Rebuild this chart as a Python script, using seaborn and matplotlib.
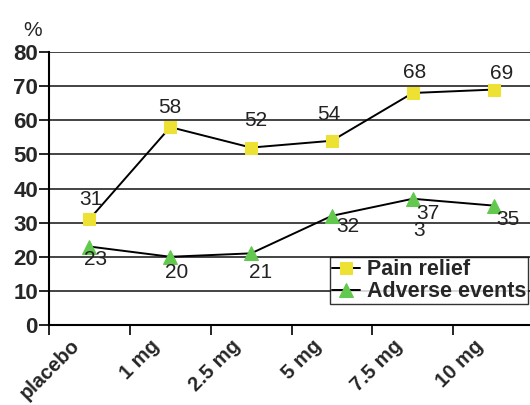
import matplotlib
matplotlib.use("Agg")
import matplotlib.pyplot as plt
import matplotlib.transforms as mtransforms
import numpy as np
import pandas as pd
import seaborn as sns

# Data
doses = ["placebo", "1 mg", "2.5 mg", "5 mg", "7.5 mg", "10 mg"]
pain_relief = [31, 58, 52, 54, 68, 69]
adverse_events = [23, 20, 21, 32, 37, 35]

# label offsets (pixels)
pain_offsets = [(1, 20), (0, 20), (5, 27), (-3, 26), (2, 20), (8, 16)]
adverse_offsets = [(6, -13), (6, -16), (9, -19), (16, -11), (15, -15), (14, -14)]

yellow = "#EDE134"
green = "#62C94E"

sns.set_style("white")
plt.rcParams["font.family"] = ["Liberation Sans", "DejaVu Sans"]

fig = plt.figure(figsize=(5.3, 4.05), dpi=100)
ax = fig.add_axes([0.0925, 0.1975, 0.915, 0.674])

df = pd.DataFrame({"dose": doses, "pain": pain_relief, "adverse": adverse_events})

sns.lineplot(data=df, x="dose", y="pain", ax=ax, color="black", lw=1.4,
             marker="s", markersize=8, markerfacecolor=yellow,
             markeredgecolor=yellow, sort=False, label="Pain relief")
sns.lineplot(data=df, x="dose", y="adverse", ax=ax, color="black", lw=1.4,
             marker="^", markersize=9.5, markerfacecolor=green,
             markeredgecolor=green, sort=False, label="Adverse events")

# Value labels
for i, (v, off) in enumerate(zip(pain_relief, pain_offsets)):
    ax.annotate(str(v), (i, v), xytext=off, textcoords="offset pixels",
                ha="center", va="center", fontsize=15, color="#222222")
for i, (v, off) in enumerate(zip(adverse_events, adverse_offsets)):
    ax.annotate(str(v), (i, v), xytext=off, textcoords="offset pixels",
                ha="center", va="center", fontsize=15, color="#222222")
# stray label in the original
ax.annotate("3", (4, adverse_events[4]), xytext=(6, -32), textcoords="offset pixels",
            ha="center", va="center", fontsize=15, color="#222222")

# Axes
ax.set_xlim(-0.5, 5.5)
ax.set_ylim(0, 80)
ax.set_yticks(np.arange(0, 81, 10))
ax.yaxis.grid(True, color="#111111", lw=1.1)
ax.set_axisbelow(True)
ax.set_xlabel("")
ax.set_ylabel("")

ax.set_xticks(range(len(doses)))
ax.set_xticklabels(doses, rotation=45, ha="right", va="top",
                   rotation_mode="anchor", fontsize=14.5, fontweight="bold")
ax.tick_params(axis="x", length=0, pad=8)
shift = mtransforms.ScaledTranslation(-20 / 100, 0, fig.dpi_scale_trans)
for lab in ax.get_xticklabels():
    lab.set_transform(lab.get_transform() + shift)
ax.set_xticks(np.arange(-0.5, 5.6, 1), minor=True)
ax.tick_params(axis="x", which="minor", direction="out", length=7, width=1.2,
               color="black", bottom=True)
ax.tick_params(axis="y", length=7, width=1.2, color="black", left=True,
               labelsize=16, pad=1)
for lab in ax.get_yticklabels():
    lab.set_fontweight("bold")

for s in ["top", "right"]:
    ax.spines[s].set_visible(False)
for s in ["left", "bottom"]:
    ax.spines[s].set_color("black")
    ax.spines[s].set_linewidth(1.5)

fig.text(0.062, 0.925, "%", fontsize=15, ha="center", va="center")

leg = ax.legend(loc="upper right", bbox_to_anchor=(0.988, 0.249),
                prop={"weight": "bold", "size": 15.5}, frameon=True,
                fancybox=False, borderpad=0.1, labelspacing=0.05,
                handlelength=1.3, handletextpad=0.3, borderaxespad=0)
for t in leg.get_texts():
    t.set_fontweight("bold")
leg.get_frame().set_edgecolor("black")
leg.get_frame().set_linewidth(1.0)

fig.savefig("out.png", dpi=100)
